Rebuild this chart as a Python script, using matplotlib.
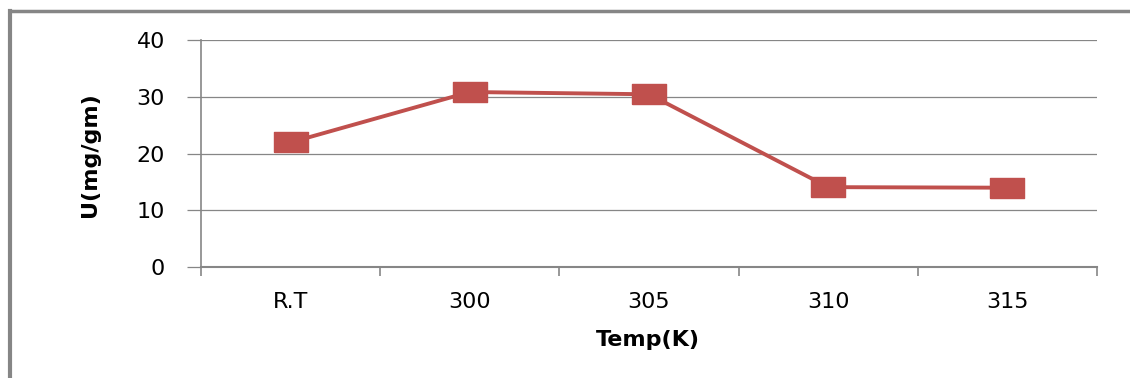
import matplotlib
matplotlib.use("Agg")
import matplotlib.pyplot as plt
from matplotlib.lines import Line2D

# data
categories = ["R.T", "300", "305", "310", "315"]
uptake = [22.0, 30.9, 30.5, 14.1, 14.0]
y_ticks = [0, 10, 20, 30, 40]

red = "#C0504D"
gray = "#868686"

fig = plt.figure(figsize=(11.3, 3.78), dpi=100)
ax = fig.add_axes([0.1779, 0.2937, 0.7929, 0.5992])

x = list(range(len(categories)))

# grid lines
for yv in y_ticks[1:]:
    ax.axhline(yv, color=gray, lw=0.9, zorder=1)

# wide rectangle marker like the original
rect = [(-1, -0.6), (1, -0.6), (1, 0.6), (-1, 0.6), (-1, -0.6)]
ax.plot(x, uptake, color=red, lw=2.8, marker=rect, markersize=24,
        markerfacecolor=red, markeredgecolor=red, zorder=3, clip_on=False)

ax.set_xlim(-0.5, len(categories) - 0.5)
ax.set_ylim(0, 40)

ax.set_yticks(y_ticks)
ax.set_yticklabels([str(v) for v in y_ticks])
ax.tick_params(axis="y", direction="out", length=10, width=0.9, color=gray,
               pad=16, labelsize=16)

# category boundaries get the ticks, labels sit in the middle
ax.set_xticks([i - 0.5 for i in range(len(categories) + 1)])
ax.set_xticklabels([])
ax.set_xticks(x, minor=True)
ax.set_xticklabels(categories, minor=True)
ax.tick_params(axis="x", which="major", direction="out", length=6.5,
               width=1.2, color=gray)
ax.tick_params(axis="x", which="minor", length=0, pad=18, labelsize=16)

for s in ["top", "right"]:
    ax.spines[s].set_visible(False)
ax.spines["left"].set_color(gray)
ax.spines["left"].set_linewidth(1.2)
ax.spines["bottom"].set_color(gray)
ax.spines["bottom"].set_linewidth(1.5)

fig.text(648 / 1130, 1 - 340 / 378, "Temp(K)", ha="center", va="center",
         fontsize=16, fontweight="bold")
fig.text(90 / 1130, 1 - 155 / 378, "U(mg/gm)", ha="center", va="center",
         rotation=90, fontsize=16, fontweight="bold")

# frame around the chart area (left and top edges visible)
fig.add_artist(Line2D([10 / 1130, 10 / 1130], [0, 1 - 11 / 378],
                      transform=fig.transFigure, color=gray, lw=3))
fig.add_artist(Line2D([10 / 1130, 1], [1 - 11 / 378, 1 - 11 / 378],
                      transform=fig.transFigure, color=gray, lw=2.5))

fig.savefig("out.png", dpi=100)
